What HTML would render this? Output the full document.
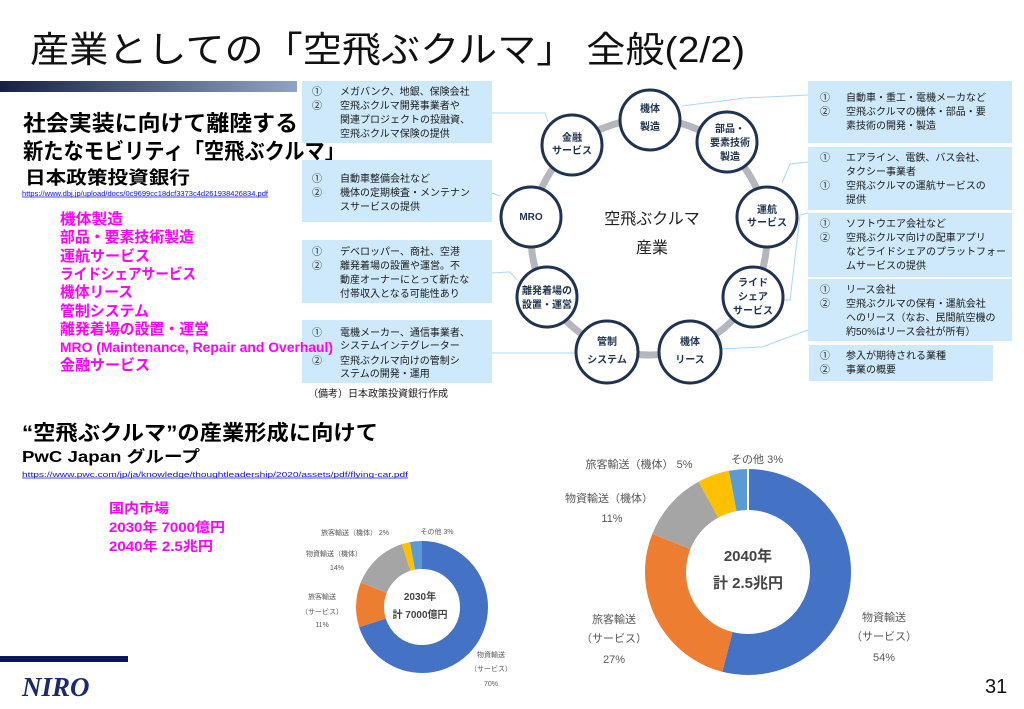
<!DOCTYPE html>
<html><head><meta charset="utf-8"><style>
html,body{margin:0;padding:0;background:#fff;}
svg{display:block;font-family:"Liberation Sans","Noto Sans CJK JP",sans-serif;}
</style></head><body>
<svg width="1024" height="709" viewBox="0 0 1024 709" xmlns="http://www.w3.org/2000/svg">
<defs><linearGradient id="g" x1="0" x2="1"><stop offset="0" stop-color="#15223f"/><stop offset="1" stop-color="#8fa4c4"/></linearGradient></defs>
<rect width="1024" height="709" fill="#fff"/>
<text x="30" y="62" font-size="36" textLength="715" lengthAdjust="spacingAndGlyphs" fill="#111">産業としての「空飛ぶクルマ」 全般(2/2)</text>
<rect x="0" y="81" width="297" height="11" fill="url(#g)"/>

<g font-weight="bold" fill="#000">
<text x="23" y="131" font-size="22" textLength="275" lengthAdjust="spacingAndGlyphs">社会実装に向けて離陸する</text>
<text x="23" y="159" font-size="22" textLength="322" lengthAdjust="spacingAndGlyphs">新たなモビリティ「空飛ぶクルマ」</text>
<text x="25" y="184" font-size="18" textLength="165" lengthAdjust="spacingAndGlyphs">日本政策投資銀行</text>
</g>
<text x="22" y="196" font-size="7" fill="#1010ee" textLength="246" lengthAdjust="spacingAndGlyphs">https://www.dbj.jp/upload/docs/0c9699cc18dcf3373c4d261938426834.pdf</text>
<line x1="22" y1="197" x2="268" y2="197" stroke="#1010ee" stroke-width="0.7"/>

<g stroke="#a9d8f2" stroke-width="1" fill="none">
<polyline points="492,113 545,113 548,122"/>
<polyline points="492,193 500,196"/>
<polyline points="492,273 510,272 517,280"/>
<polyline points="492,353 578,353"/>
<polyline points="808,95 745,98 682,106"/>
<polyline points="808,162 790,164 782,183"/>
<polyline points="808,213 800,215 790,300 784,300"/>
<polyline points="808,330 762,347 720,349"/>
</g>

<g fill="#cde9fb">
<rect x="302" y="81" width="190" height="62"/>
<rect x="302" y="160" width="190" height="62"/>
<rect x="302" y="240" width="190" height="63"/>
<rect x="302" y="320" width="190" height="63"/>
<rect x="808" y="81" width="204" height="62"/>
<rect x="808" y="147" width="204" height="63"/>
<rect x="808" y="213" width="204" height="64"/>
<rect x="808" y="279" width="204" height="62"/>
<rect x="809" y="345" width="184" height="36"/>
</g>
<g font-size="10" fill="#1a1a1a">
<text x="312" y="95">①</text><text x="340" y="95">メガバンク、地銀、保険会社</text>
<text x="312" y="109">②</text><text x="340" y="109">空飛ぶクルマ開発事業者や</text>
<text x="340" y="123">関連プロジェクトの投融資、</text>
<text x="340" y="137">空飛ぶクルマ保険の提供</text>
<text x="312" y="182">①</text><text x="340" y="182">自動車整備会社など</text>
<text x="312" y="196">②</text><text x="340" y="196">機体の定期検査・メンテナン</text>
<text x="340" y="210">スサービスの提供</text>
<text x="312" y="255">①</text><text x="340" y="255">デベロッパー、商社、空港</text>
<text x="312" y="269">②</text><text x="340" y="269">離発着場の設置や運営。不</text>
<text x="340" y="283">動産オーナーにとって新たな</text>
<text x="340" y="297">付帯収入となる可能性あり</text>
<text x="312" y="336">①</text><text x="340" y="336">電機メーカー、通信事業者、</text>
<text x="340" y="349">システムインテグレーター</text>
<text x="312" y="364">②</text><text x="340" y="364">空飛ぶクルマ向けの管制シ</text>
<text x="340" y="377">ステムの開発・運用</text>
<text x="308" y="397">（備考）日本政策投資銀行作成</text>

<text x="820" y="101">①</text><text x="846" y="101">自動車・重工・電機メーカなど</text>
<text x="820" y="115">②</text><text x="846" y="115">空飛ぶクルマの機体・部品・要</text>
<text x="846" y="129">素技術の開発・製造</text>
<text x="820" y="161">①</text><text x="846" y="161">エアライン、電鉄、バス会社、</text>
<text x="846" y="175">タクシー事業者</text>
<text x="820" y="189">①</text><text x="846" y="189">空飛ぶクルマの運航サービスの</text>
<text x="846" y="203">提供</text>
<text x="820" y="227">①</text><text x="846" y="227">ソフトウエア会社など</text>
<text x="820" y="241">②</text><text x="846" y="241">空飛ぶクルマ向けの配車アプリ</text>
<text x="846" y="255">などライドシェアのプラットフォー</text>
<text x="846" y="269">ムサービスの提供</text>
<text x="820" y="293">①</text><text x="846" y="293">リース会社</text>
<text x="820" y="307">②</text><text x="846" y="307">空飛ぶクルマの保有・運航会社</text>
<text x="846" y="321">へのリース（なお、民間航空機の</text>
<text x="846" y="335">約50%はリース会社が所有）</text>
<text x="820" y="359">①</text><text x="846" y="359">参入が期待される業種</text>
<text x="820" y="373">②</text><text x="846" y="373">事業の概要</text>
</g>

<circle cx="649" cy="237" r="118" fill="none" stroke="#b4b7bd" stroke-width="7"/>
<g fill="#fff" stroke="#1f3350" stroke-width="3">
<circle cx="650" cy="120" r="30"/>
<circle cx="727" cy="142" r="30"/>
<circle cx="572" cy="145" r="30"/>
<circle cx="531" cy="217" r="30"/>
<circle cx="767" cy="217" r="30"/>
<circle cx="547" cy="297" r="30"/>
<circle cx="753" cy="297" r="30"/>
<circle cx="607" cy="352" r="31"/>
<circle cx="690" cy="352" r="31"/>
</g>
<g font-size="10" font-weight="bold" fill="#1f3350" text-anchor="middle">
<text x="650" y="112">機体</text><text x="650" y="130">製造</text>
<text x="730" y="132">部品・</text><text x="730" y="146">要素技術</text><text x="730" y="160">製造</text>
<text x="572" y="141">金融</text><text x="572" y="154">サービス</text>
<text x="531" y="220">MRO</text>
<text x="767" y="213">運航</text><text x="767" y="226">サービス</text>
<text x="547" y="294">離発着場の</text><text x="547" y="308">設置・運営</text>
<text x="753" y="286">ライド</text><text x="753" y="300">シェア</text><text x="753" y="314">サービス</text>
<text x="607" y="345">管制</text><text x="607" y="363">システム</text>
<text x="690" y="345">機体</text><text x="690" y="363">リース</text>
</g>
<g font-size="16" fill="#222" text-anchor="middle">
<text x="652" y="224">空飛ぶクルマ</text>
<text x="652" y="253">産業</text>
</g>

<text x="22" y="440" font-size="21" font-weight="bold" textLength="356" lengthAdjust="spacingAndGlyphs">“空飛ぶクルマ”の産業形成に向けて</text>
<text x="22" y="462" font-size="16" font-weight="bold" textLength="178" lengthAdjust="spacingAndGlyphs">PwC Japan グループ</text>
<text x="22" y="477" font-size="7.5" fill="#1010ee" textLength="386" lengthAdjust="spacingAndGlyphs">https://www.pwc.com/jp/ja/knowledge/thoughtleadership/2020/assets/pdf/flying-car.pdf</text>
<line x1="22" y1="478" x2="408" y2="478" stroke="#1010ee" stroke-width="0.7"/>
<g font-size="13.5" font-weight="bold" fill="#ff00ff">
<text x="109" y="513" textLength="60" lengthAdjust="spacingAndGlyphs">国内市場</text>
<text x="109" y="532" textLength="116" lengthAdjust="spacingAndGlyphs">2030年  7000億円</text>
<text x="109" y="551" textLength="104" lengthAdjust="spacingAndGlyphs">2040年  2.5兆円</text>
</g>
<rect x="0" y="656" width="128" height="6" fill="#0c1563"/>
<text x="22" y="696" font-family="Liberation Serif,serif" font-size="27" font-style="italic" font-weight="bold" fill="#1a2a6c">NIRO</text>
<text x="985" y="693" font-size="20" fill="#111">31</text>

<g transform="translate(422,607) rotate(-90)" fill="none" stroke-width="28">
<circle r="52" stroke="#4472c4" stroke-dasharray="228.7 400" stroke-dashoffset="0"/>
<circle r="52" stroke="#ed7d31" stroke-dasharray="35.9 400" stroke-dashoffset="-228.7"/>
<circle r="52" stroke="#a5a5a5" stroke-dasharray="45.7 400" stroke-dashoffset="-264.6"/>
<circle r="52" stroke="#ffc000" stroke-dasharray="6.5 400" stroke-dashoffset="-310.3"/>
<circle r="52" stroke="#5b9bd5" stroke-dasharray="9.8 400" stroke-dashoffset="-316.8"/>
</g>
<g font-size="7" fill="#595959" text-anchor="middle">
<text x="355" y="535">旅客輸送（機体） 2%</text>
<text x="437" y="534">その他  3%</text>
<text x="334" y="556">物資輸送（機体）</text>
<text x="337" y="570">14%</text>
<text x="322" y="599">旅客輸送</text>
<text x="322" y="614">（サービス）</text>
<text x="322" y="627">11%</text>
<text x="491" y="657">物資輸送</text>
<text x="491" y="671">（サービス）</text>
<text x="491" y="686">70%</text>
</g>
<g font-size="10" font-weight="bold" fill="#444" text-anchor="middle">
<text x="420" y="600">2030年</text>
<text x="420" y="618">計 7000億円</text>
</g>

<g transform="translate(748,572) rotate(-90)" fill="none" stroke-width="41">
<circle r="82.5" stroke="#4472c4" stroke-dasharray="279.9 600" stroke-dashoffset="0"/>
<circle r="82.5" stroke="#ed7d31" stroke-dasharray="140 600" stroke-dashoffset="-279.9"/>
<circle r="82.5" stroke="#a5a5a5" stroke-dasharray="57 600" stroke-dashoffset="-419.9"/>
<circle r="82.5" stroke="#ffc000" stroke-dasharray="25.9 600" stroke-dashoffset="-476.9"/>
<circle r="82.5" stroke="#5b9bd5" stroke-dasharray="15.6 600" stroke-dashoffset="-502.8"/>
</g>
<line x1="748" y1="468" x2="748" y2="510" stroke="#fff" stroke-width="2"/>
<g font-size="11" fill="#595959" text-anchor="middle">
<text x="639" y="468">旅客輸送（機体） 5%</text>
<text x="757" y="463">その他   3%</text>
<text x="609" y="502">物資輸送（機体）</text>
<text x="612" y="522">11%</text>
<text x="614" y="623">旅客輸送</text>
<text x="614" y="642">（サービス）</text>
<text x="614" y="663">27%</text>
<text x="884" y="621">物資輸送</text>
<text x="884" y="640">（サービス）</text>
<text x="884" y="661">54%</text>
</g>
<g font-size="15" font-weight="bold" fill="#444" text-anchor="middle">
<text x="748" y="561">2040年</text>
<text x="748" y="588">計 2.5兆円</text>
</g>

<g font-size="15" font-weight="bold" fill="#ff00ff">
<text x="60" y="224" textLength="63" lengthAdjust="spacingAndGlyphs">機体製造</text>
<text x="60" y="242" textLength="134" lengthAdjust="spacingAndGlyphs">部品・要素技術製造</text>
<text x="60" y="261" textLength="90" lengthAdjust="spacingAndGlyphs">運航サービス</text>
<text x="60" y="279" textLength="136" lengthAdjust="spacingAndGlyphs">ライドシェアサービス</text>
<text x="60" y="297" textLength="73" lengthAdjust="spacingAndGlyphs">機体リース</text>
<text x="60" y="316" textLength="89" lengthAdjust="spacingAndGlyphs">管制システム</text>
<text x="60" y="334" textLength="149" lengthAdjust="spacingAndGlyphs">離発着場の設置・運営</text>
<text x="60" y="352" font-size="14" textLength="273" lengthAdjust="spacingAndGlyphs">MRO (Maintenance, Repair and Overhaul)</text>
<text x="60" y="370" textLength="90" lengthAdjust="spacingAndGlyphs">金融サービス</text>
</g>
</svg>
</body></html>
